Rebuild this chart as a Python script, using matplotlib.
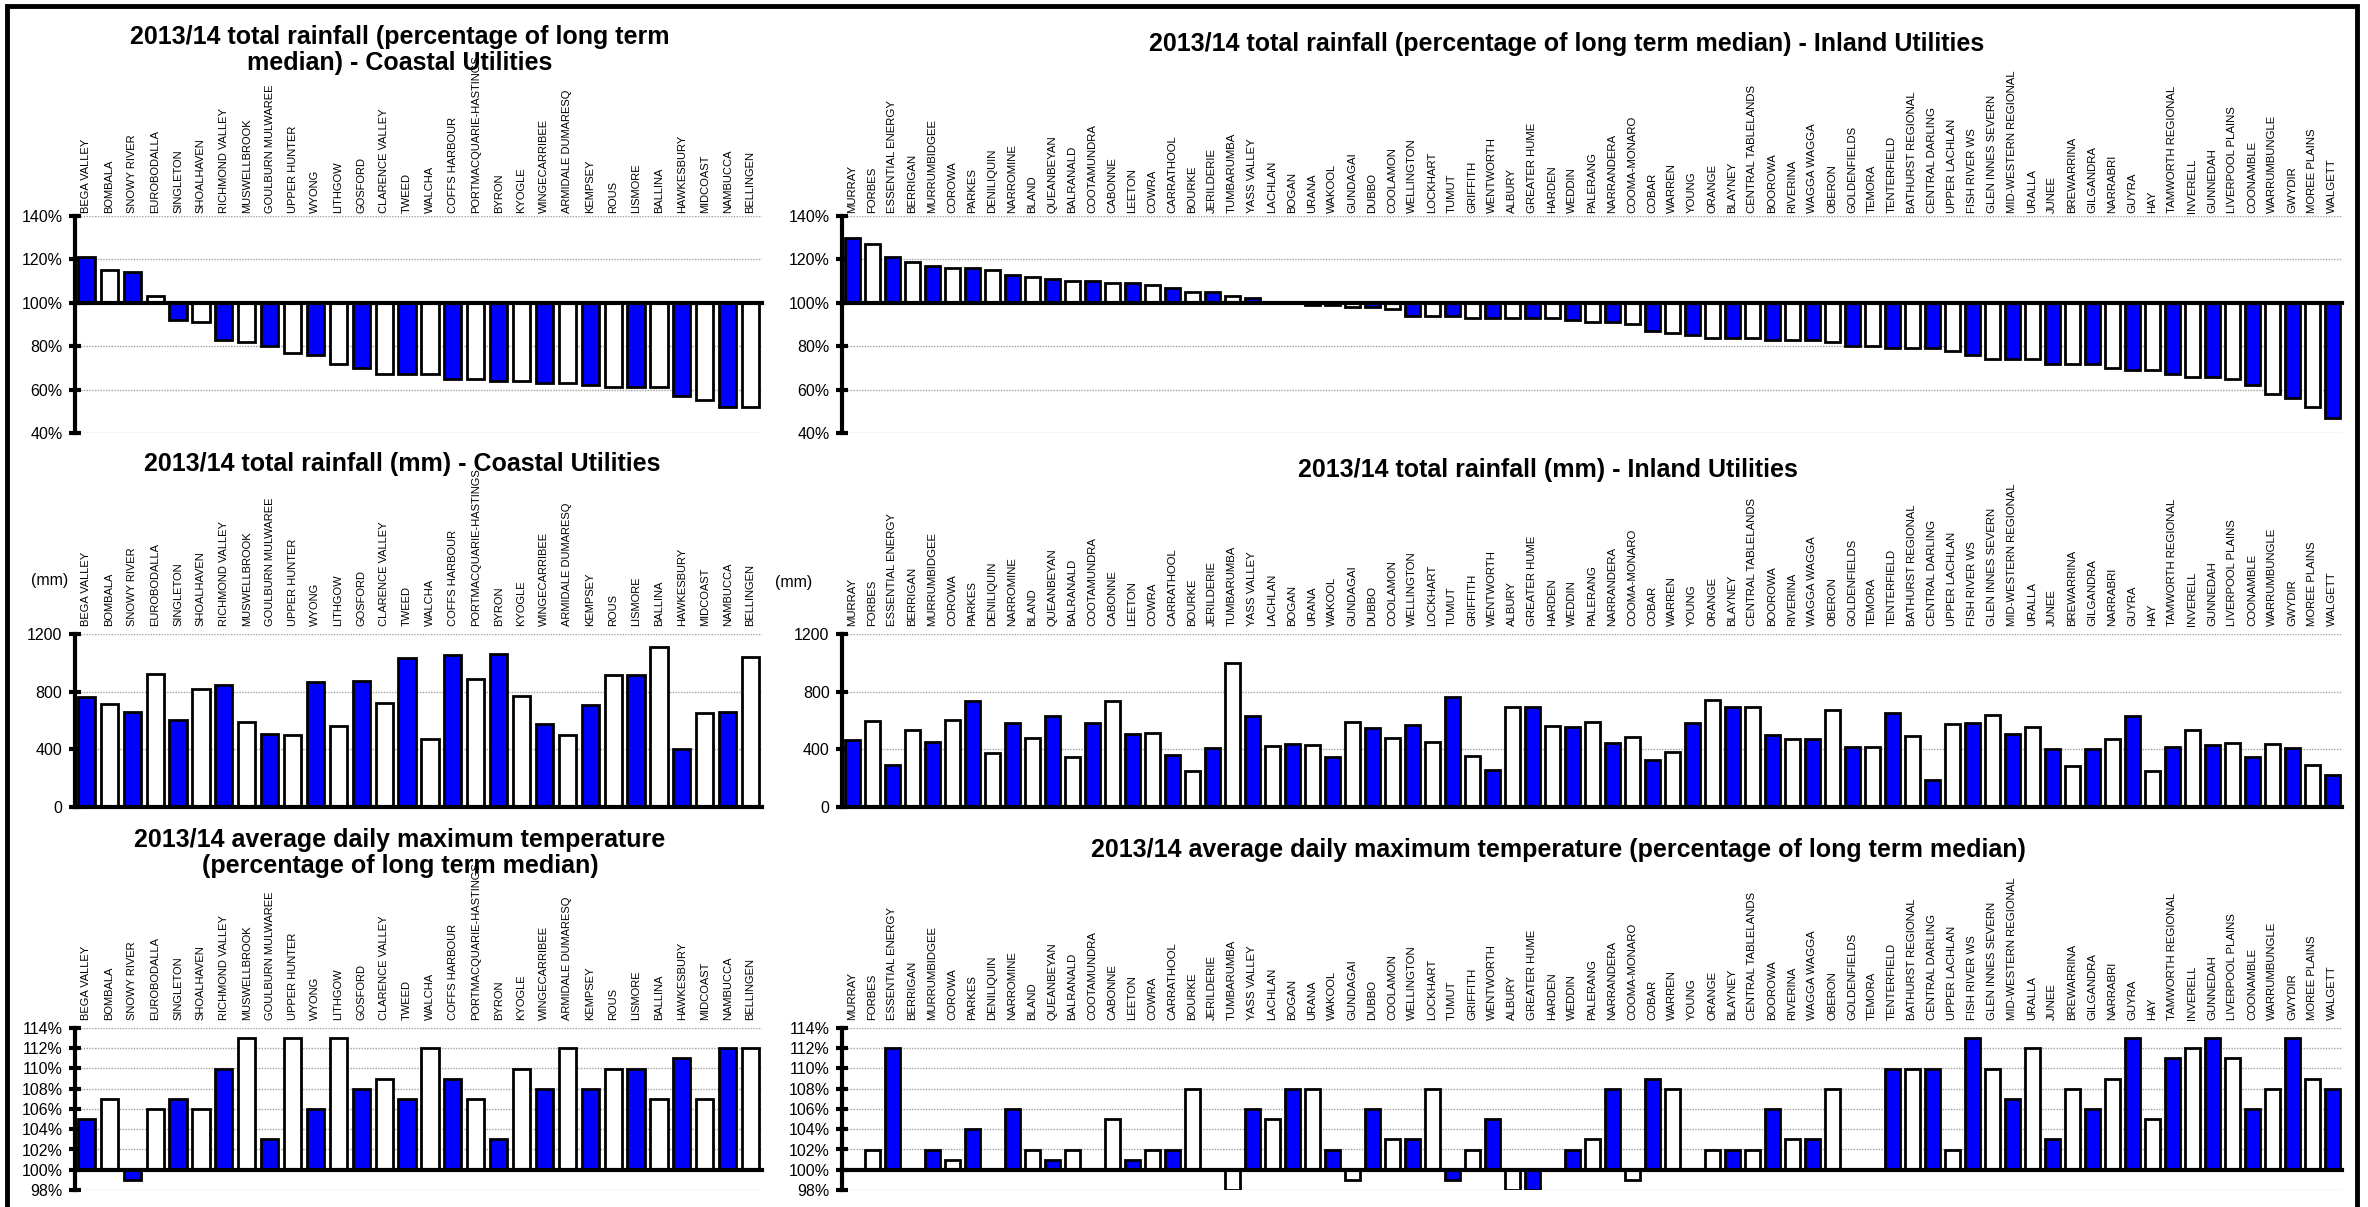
import numpy as np
import matplotlib
matplotlib.use("Agg")
import matplotlib.pyplot as plt
from matplotlib.patches import Rectangle

plt.rcParams['font.family'] = ['Liberation Sans', 'DejaVu Sans']

# coastal utilities, same order in all three charts
coastal_names = ["BEGA VALLEY", "BOMBALA", "SNOWY RIVER", "EUROBODALLA", "SINGLETON",
                 "SHOALHAVEN", "RICHMOND VALLEY", "MUSWELLBROOK", "GOULBURN MULWAREE",
                 "UPPER HUNTER", "WYONG", "LITHGOW", "GOSFORD", "CLARENCE VALLEY", "TWEED",
                 "WALCHA", "COFFS HARBOUR", "PORTMACQUARIE-HASTINGS", "BYRON", "KYOGLE",
                 "WINGECARRIBEE", "ARMIDALE DUMARESQ", "KEMPSEY", "ROUS", "LISMORE",
                 "BALLINA", "HAWKESBURY", "MIDCOAST", "NAMBUCCA", "BELLINGEN"]
coastal_rain_pct = [121, 115, 114, 103, 92, 91, 83, 82, 80, 77, 76, 72, 70, 67, 67,
                    67, 65, 65, 64, 64, 63, 63, 62, 61, 61, 61, 57, 55, 52, 52]
coastal_rain_mm = [763, 712, 658, 922, 604, 817, 847, 588, 509, 502, 868, 565, 873, 723, 1031,
                   471, 1055, 887, 1062, 770, 579, 502, 709, 915, 915, 1108, 401, 649, 660, 1038]
coastal_temp_pct = [105, 107, 99, 106, 107, 106, 110, 113, 103, 113, 106, 113, 108, 109, 107,
                    112, 109, 107, 103, 110, 108, 112, 108, 110, 110, 107, 111, 107, 112, 112]

# inland utilities
inland_names = ["MURRAY", "FORBES", "ESSENTIAL ENERGY", "BERRIGAN", "MURRUMBIDGEE", "COROWA",
                "PARKES", "DENILIQUIN", "NARROMINE", "BLAND", "QUEANBEYAN", "BALRANALD",
                "COOTAMUNDRA", "CABONNE", "LEETON", "COWRA", "CARRATHOOL", "BOURKE",
                "JERILDERIE", "TUMBARUMBA", "YASS VALLEY", "LACHLAN", "BOGAN", "URANA",
                "WAKOOL", "GUNDAGAI", "DUBBO", "COOLAMON", "WELLINGTON", "LOCKHART", "TUMUT",
                "GRIFFITH", "WENTWORTH", "ALBURY", "GREATER HUME", "HARDEN", "WEDDIN",
                "PALERANG", "NARRANDERA", "COOMA-MONARO", "COBAR", "WARREN", "YOUNG", "ORANGE",
                "BLAYNEY", "CENTRAL TABLELANDS", "BOOROWA", "RIVERINA", "WAGGA WAGGA", "OBERON",
                "GOLDENFIELDS", "TEMORA", "TENTERFIELD", "BATHURST REGIONAL", "CENTRAL DARLING",
                "UPPER LACHLAN", "FISH RIVER WS", "GLEN INNES SEVERN", "MID-WESTERN REGIONAL",
                "URALLA", "JUNEE", "BREWARRINA", "GILGANDRA", "NARRABRI", "GUYRA", "HAY",
                "TAMWORTH REGIONAL", "INVERELL", "GUNNEDAH", "LIVERPOOL PLAINS", "COONAMBLE",
                "WARRUMBUNGLE", "GWYDIR", "MOREE PLAINS", "WALGETT"]
inland_rain_pct = [130, 127, 121, 119, 117, 116, 116, 115, 113, 112, 111, 110, 110, 109, 109,
                   108, 107, 105, 105, 103, 102, 100, 100, 99, 99, 98, 98, 97, 94, 94,
                   94, 93, 93, 93, 93, 93, 92, 91, 91, 90, 87, 86, 85, 84, 84,
                   84, 83, 83, 83, 82, 80, 80, 79, 79, 79, 78, 76, 74, 74, 74,
                   72, 72, 72, 70, 69, 69, 67, 66, 66, 65, 62, 58, 56, 52, 47]
inland_rain_mm = [464, 596, 291, 533, 453, 605, 734, 375, 586, 476, 633, 345, 586, 734, 504,
                  511, 359, 253, 410, 997, 629, 422, 439, 427, 345, 589, 551, 476, 568, 448,
                  762, 354, 256, 694, 694, 561, 556, 591, 441, 483, 328, 380, 582, 741, 697,
                  697, 502, 469, 469, 673, 418, 418, 652, 495, 190, 575, 584, 636, 509, 558,
                  404, 284, 404, 472, 631, 251, 413, 535, 427, 443, 347, 434, 408, 293, 221]
inland_temp_pct = [100, 102, 112, 100, 102, 101, 104, 100, 106, 102, 101, 102, 100, 105, 101,
                   102, 102, 108, 100, 98, 106, 105, 108, 108, 102, 99, 106, 103, 103, 108,
                   99, 102, 105, 98, 98, 100, 102, 103, 108, 99, 109, 108, 100, 102, 102,
                   102, 106, 103, 103, 108, 100, 100, 110, 110, 110, 102, 113, 110, 107, 112,
                   103, 108, 106, 109, 113, 105, 111, 112, 113, 111, 106, 108, 113, 109, 108]

pct_ticks = [40, 60, 80, 100, 120, 140]
mm_ticks = [0, 400, 800, 1200]
temp_ticks = [98, 100, 102, 104, 106, 108, 110, 112, 114]

W, H = 2368, 1207
BLUE = "#0000FF"


def px_ax(fig, x0, x1, ytop, ybot):
    # axes from pixel box (y measured from the top)
    return fig.add_axes([x0 / W, 1 - ybot / H, (x1 - x0) / W, (ybot - ytop) / H])


def draw_panel(ax, names, values, base, ticks, pct=True, label_size=8.0, label_pad=2):
    n = len(names)
    x = np.arange(n)
    vals = np.array(values, dtype=float)
    colors = [BLUE if i % 2 == 0 else "white" for i in range(n)]
    ax.bar(x, vals - base, bottom=base, width=0.75, color=colors,
           edgecolor="black", linewidth=2, zorder=2)
    ax.axhline(base, color="black", lw=3, zorder=3, clip_on=False)

    ax.set_xlim(-0.5, n - 0.5)
    ax.set_ylim(ticks[0], ticks[-1])
    ax.set_yticks(ticks)
    if pct:
        ax.set_yticklabels([f"{t}%" for t in ticks])
    else:
        ax.set_yticklabels([str(t) for t in ticks])
    ax.yaxis.grid(True, linestyle=(0, (1, 1)), color="#a0a0a0", lw=1)
    ax.set_axisbelow(True)

    # category names on top, vertical
    ax.set_xticks(x)
    ax.set_xticklabels(names, rotation=90, fontsize=label_size)
    ax.tick_params(axis="x", top=True, labeltop=True, bottom=False,
                   labelbottom=False, length=0, pad=label_pad)
    ax.tick_params(axis="y", direction="inout", length=8, width=3, labelsize=11.5, pad=5)

    for s in ["top", "right", "bottom"]:
        ax.spines[s].set_visible(False)
    ax.spines["left"].set_linewidth(3)


fig = plt.figure(figsize=(W / 100, H / 100), dpi=100)

cx0, cx1 = 75, 762
ix0, ix1 = 842, 2342

# row 1: rainfall % of median
ax = px_ax(fig, cx0, cx1, 216, 433)
draw_panel(ax, coastal_names, coastal_rain_pct, 100, pct_ticks)
ax = px_ax(fig, ix0, ix1, 216, 433)
draw_panel(ax, inland_names, inland_rain_pct, 100, pct_ticks, label_size=8.2)

# row 2: rainfall mm
ax = px_ax(fig, cx0, cx1, 634, 807)
draw_panel(ax, coastal_names, coastal_rain_mm, 0, mm_ticks, pct=False, label_pad=6)
ax = px_ax(fig, ix0, ix1, 634, 807)
draw_panel(ax, inland_names, inland_rain_mm, 0, mm_ticks, pct=False,
           label_size=8.2, label_pad=6)

# row 3: temperature % of median
ax = px_ax(fig, cx0, cx1, 1028, 1190)
draw_panel(ax, coastal_names, coastal_temp_pct, 100, temp_ticks, label_pad=6)
ax = px_ax(fig, ix0, ix1, 1028, 1190)
draw_panel(ax, inland_names, inland_temp_pct, 100, temp_ticks, label_size=8.2, label_pad=6)

# titles
tkw = dict(ha="center", va="center", fontsize=18, fontweight="bold")
fig.text(400 / W, 1 - 50 / H,
         "2013/14 total rainfall (percentage of long term\nmedian) - Coastal Utilities",
         linespacing=1.1, **tkw)
fig.text(1567 / W, 1 - 44 / H,
         "2013/14 total rainfall (percentage of long term median) - Inland Utilities", **tkw)
fig.text(402 / W, 1 - 464 / H, "2013/14 total rainfall (mm) - Coastal Utilities", **tkw)
fig.text(1548 / W, 1 - 470 / H, "2013/14 total rainfall (mm) - Inland Utilities", **tkw)
fig.text(400 / W, 1 - 853 / H,
         "2013/14 average daily maximum temperature\n(percentage of long term median)",
         linespacing=1.1, **tkw)
fig.text(1558 / W, 1 - 850 / H,
         "2013/14 average daily maximum temperature (percentage of long term median)", **tkw)

# (mm) unit labels
fig.text(31 / W, 1 - 580 / H, "(mm)", ha="left", va="center", fontsize=11.5)
fig.text(775 / W, 1 - 582 / H, "(mm)", ha="left", va="center", fontsize=11.5)

# outer frame
fig.add_artist(Rectangle((0.003, -0.02), 0.9925, 1.015, transform=fig.transFigure,
                         fill=False, lw=3.5, edgecolor="black"))

fig.savefig("out.png", dpi=100, facecolor="white")
